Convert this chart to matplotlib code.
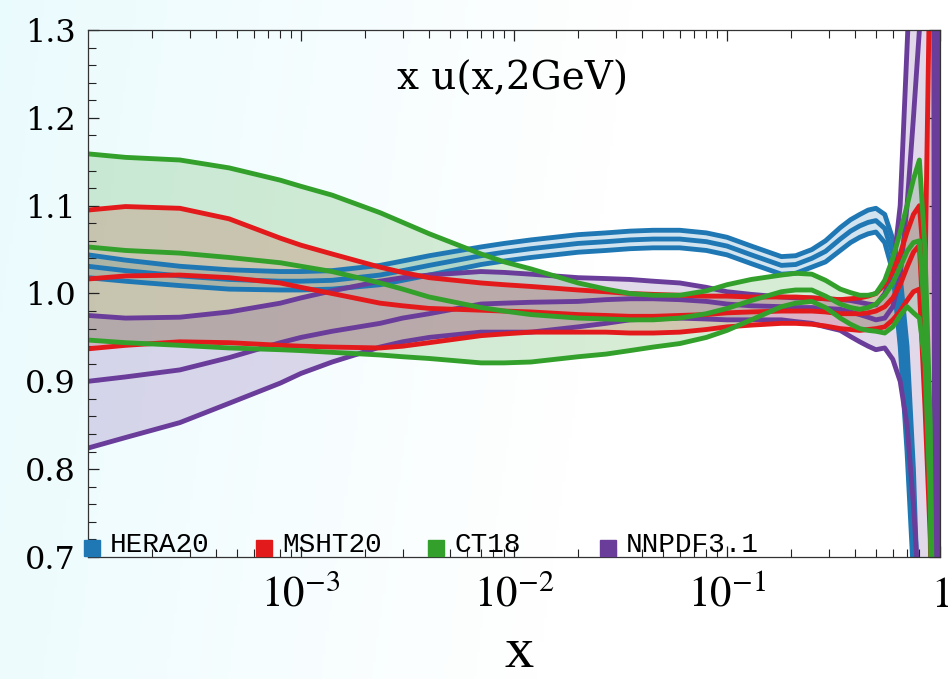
import numpy as np
import matplotlib
matplotlib.use('Agg')
import matplotlib.pyplot as plt
from matplotlib.ticker import MultipleLocator, LogLocator, FixedLocator, FormatStrFormatter, NullFormatter

plt.rcParams['mathtext.fontset'] = 'stix'

# x grid shared by all sets
x = [1e-4, 1.5e-4, 2.7e-4, 4.6e-4, 8e-4, 1e-3, 1.4e-3, 2.35e-3, 3e-3, 4e-3,
     7e-3, 9e-3, 0.012, 0.02, 0.027, 0.035, 0.045, 0.06, 0.08, 0.1,
     0.13, 0.18, 0.21, 0.25, 0.29, 0.34, 0.38, 0.42, 0.46, 0.5,
     0.55, 0.6, 0.65, 0.7, 0.75, 0.8, 0.85, 0.9, 0.93, 0.95, 0.97, 0.99]

hera_up = [1.044, 1.038, 1.031, 1.027, 1.025, 1.025, 1.026, 1.032, 1.037, 1.043,
           1.053, 1.057, 1.061, 1.067, 1.069, 1.071, 1.072, 1.072, 1.069, 1.064,
           1.054, 1.042, 1.043, 1.050, 1.060, 1.075, 1.084, 1.090, 1.095, 1.097,
           1.090, 1.062, 1.020, 0.940, 0.800, 0.600, 0.45, 0.40, 0.40, 0.40, 0.40, 0.40]
hera_c = [1.031, 1.026, 1.020, 1.016, 1.014, 1.014, 1.015, 1.021, 1.026, 1.032,
          1.043, 1.047, 1.051, 1.057, 1.059, 1.061, 1.062, 1.062, 1.059, 1.054,
          1.044, 1.032, 1.033, 1.040, 1.048, 1.062, 1.071, 1.077, 1.081, 1.083,
          1.074, 1.045, 0.980, 0.880, 0.740, 0.500, 0.40, 0.35, 0.35, 0.35, 0.35, 0.35]
hera_lo = [1.018, 1.014, 1.009, 1.005, 1.004, 1.004, 1.005, 1.010, 1.015, 1.021,
           1.033, 1.037, 1.041, 1.047, 1.049, 1.051, 1.052, 1.052, 1.049, 1.044,
           1.034, 1.022, 1.023, 1.030, 1.036, 1.049, 1.058, 1.064, 1.068, 1.070,
           1.058, 1.025, 0.940, 0.820, 0.680, 0.400, 0.35, 0.30, 0.30, 0.30, 0.30, 0.30]

msht_up = [1.095, 1.099, 1.097, 1.085, 1.063, 1.055, 1.045, 1.030, 1.024, 1.018,
           1.012, 1.010, 1.008, 1.004, 1.002, 1.000, 0.999, 0.998, 0.997, 0.997,
           0.996, 0.996, 0.996, 0.995, 0.994, 0.993, 0.994, 0.995, 0.997, 1.000,
           1.010, 1.025, 1.045, 1.070, 1.090, 1.100, 1.020, 1.400, 1.6, 1.6, 1.6, 1.6]
msht_c = [1.0165, 1.020, 1.021, 1.018, 1.012, 1.007, 1.000, 0.989, 0.986, 0.983,
          0.981, 0.980, 0.979, 0.976, 0.975, 0.974, 0.974, 0.975, 0.976, 0.978,
          0.979, 0.980, 0.980, 0.980, 0.979, 0.977, 0.977, 0.977, 0.978, 0.980,
          0.985, 0.995, 1.010, 1.030, 1.047, 1.055, 0.930, 0.800, 0.5, 0.4, 0.4, 0.4]
msht_lo = [0.937, 0.941, 0.945, 0.944, 0.941, 0.940, 0.939, 0.938, 0.940, 0.944,
           0.952, 0.954, 0.956, 0.956, 0.956, 0.955, 0.955, 0.956, 0.959, 0.962,
           0.964, 0.966, 0.966, 0.965, 0.963, 0.960, 0.959, 0.958, 0.959, 0.960,
           0.962, 0.970, 0.980, 0.992, 1.002, 1.005, 0.870, 0.720, 0.45, 0.4, 0.4, 0.4]

ct_up = [1.159, 1.155, 1.152, 1.143, 1.129, 1.122, 1.112, 1.092, 1.081, 1.068,
         1.045, 1.036, 1.028, 1.012, 1.005, 1.000, 0.998, 0.998, 1.003, 1.010,
         1.016, 1.021, 1.023, 1.022, 1.015, 1.005, 1.001, 0.998, 0.998, 1.000,
         1.015, 1.040, 1.070, 1.100, 1.130, 1.152, 1.050, 0.850, 0.55, 0.4, 0.4, 0.4]
ct_c = [1.053, 1.049, 1.046, 1.041, 1.035, 1.031, 1.025, 1.012, 1.005, 0.996,
        0.984, 0.980, 0.976, 0.972, 0.971, 0.970, 0.970, 0.972, 0.977, 0.983,
        0.992, 1.002, 1.004, 1.004, 0.997, 0.988, 0.984, 0.982, 0.984, 0.988,
        0.998, 1.012, 1.030, 1.048, 1.058, 1.060, 0.970, 0.800, 0.5, 0.4, 0.4, 0.4]
ct_lo = [0.947, 0.944, 0.941, 0.938, 0.936, 0.935, 0.933, 0.930, 0.928, 0.926,
         0.921, 0.921, 0.922, 0.928, 0.931, 0.935, 0.939, 0.943, 0.950, 0.958,
         0.970, 0.985, 0.989, 0.991, 0.984, 0.972, 0.965, 0.960, 0.958, 0.957,
         0.955, 0.962, 0.975, 0.985, 0.978, 0.972, 0.920, 0.760, 0.45, 0.4, 0.4, 0.4]

nnpdf_up = [0.975, 0.972, 0.973, 0.979, 0.989, 0.995, 1.003, 1.014, 1.018, 1.021,
            1.025, 1.024, 1.022, 1.018, 1.017, 1.016, 1.014, 1.012, 1.007, 1.002,
            0.999, 0.996, 0.995, 0.995, 0.994, 0.993, 0.992, 0.990, 0.988, 0.987,
            1.000, 1.025, 1.100, 1.280, 1.450, 1.6, 1.7, 1.8, 1.9, 1.9, 1.9, 1.9]
nnpdf_c = [0.900, 0.905, 0.913, 0.927, 0.944, 0.950, 0.957, 0.966, 0.972, 0.977,
           0.988, 0.989, 0.990, 0.991, 0.993, 0.994, 0.994, 0.993, 0.991, 0.988,
           0.986, 0.985, 0.984, 0.984, 0.983, 0.982, 0.979, 0.976, 0.973, 0.970,
           0.972, 0.985, 1.020, 1.100, 1.200, 1.300, 1.450, 1.600, 1.600, 0.300, 0.300, 1.800]
nnpdf_lo = [0.824, 0.836, 0.853, 0.875, 0.898, 0.909, 0.922, 0.939, 0.945, 0.950,
            0.956, 0.956, 0.956, 0.962, 0.966, 0.970, 0.971, 0.972, 0.971, 0.970,
            0.970, 0.970, 0.968, 0.966, 0.962, 0.958, 0.951, 0.945, 0.940, 0.936,
            0.938, 0.925, 0.900, 0.850, 0.760, 0.650, 0.500, 0.400, 0.35, 0.3, 0.3, 0.3]

labels = ['HERA20', 'MSHT20', 'CT18', 'NNPDF3.1']
colors = ['#1f78b4', '#e31a1c', '#33a02c', '#6a3d9a']
xtick_pos = [1e-3, 1e-2, 1e-1, 1]
xtick_lab = ['$10^{-3}$', '$10^{-2}$', '$10^{-1}$', '$1$']

fig = plt.figure(figsize=(9.48, 6.79), dpi=100)

# soft cyan -> white background behind everything
bg = fig.add_axes([0, 0, 1, 1], zorder=-10)
gx, gy = np.meshgrid(np.linspace(0, 1, 300), np.linspace(0, 1, 200))
t = np.clip(gx * 1.5 + gy * 0.15, 0, 1)[..., None]
cyan = np.array([0.92, 0.985, 0.995])
bg.imshow(cyan * (1 - t) + np.ones(3) * t, aspect='auto', extent=[0, 1, 0, 1], origin='upper')
bg.axis('off')

ax = fig.add_axes([0.0928, 0.1797, 0.8988, 0.7761])
ax.set_facecolor('none')

sets = [(hera_up, hera_c, hera_lo), (msht_up, msht_c, msht_lo),
        (ct_up, ct_c, ct_lo), (nnpdf_up, nnpdf_c, nnpdf_lo)]

for (up, c, lo), col in zip(sets, colors):
    ax.fill_between(x, lo, up, color=col, alpha=0.2, lw=0, zorder=1)

for i in [0, 3, 1, 2]:
    up, c, lo = sets[i]
    for yy in (up, c, lo):
        ax.plot(x, yy, color=colors[i], lw=3.5, zorder=2, solid_joinstyle='round')

ax.set_xscale('log')
ax.set_xlim(1e-4, 1)
ax.set_ylim(0.7, 1.3)

ax.xaxis.set_major_locator(FixedLocator(xtick_pos))
ax.set_xticklabels(xtick_lab, fontsize=31)
ax.xaxis.set_minor_locator(LogLocator(base=10, subs=np.arange(2, 10)))
ax.xaxis.set_minor_formatter(NullFormatter())
ax.yaxis.set_major_locator(MultipleLocator(0.1))
ax.yaxis.set_minor_locator(MultipleLocator(0.02))
ax.yaxis.set_major_formatter(FormatStrFormatter('%.1f'))
for lab in ax.get_yticklabels():
    lab.set_family('DejaVu Serif')
    lab.set_fontsize(23)

ax.tick_params(which='both', direction='in', top=True, right=True, color='#222222')
ax.tick_params(which='major', length=8, width=0.9)
ax.tick_params(which='minor', length=6, width=0.8)
ax.tick_params(axis='x', which='major', pad=12)
ax.tick_params(axis='y', which='major', pad=9)
for sp in ax.spines.values():
    sp.set_linewidth(0.9)
    sp.set_color('#333333')

ax.text(0.498, 0.886, 'x u(x,2GeV)', transform=ax.transAxes, ha='center',
        va='baseline', fontsize=28, family='DejaVu Serif')
fig.text(0.548, 0.018, 'x', ha='center', va='baseline', fontsize=42, family='Liberation Serif')

# legend row along the bottom of the frame
for i, (lab, col) in enumerate(zip(labels, colors)):
    x0 = 0.0047 + i * 0.202
    ax.plot([x0], [0.017], marker='s', ms=11, color=col, mec=col, transform=ax.transAxes,
            clip_on=False, zorder=5)
    ax.text(x0 + 0.021, 0.022, lab, transform=ax.transAxes, ha='left', va='center',
            fontsize=20, family='Liberation Mono', zorder=5)

fig.savefig('out.png', dpi=100)
